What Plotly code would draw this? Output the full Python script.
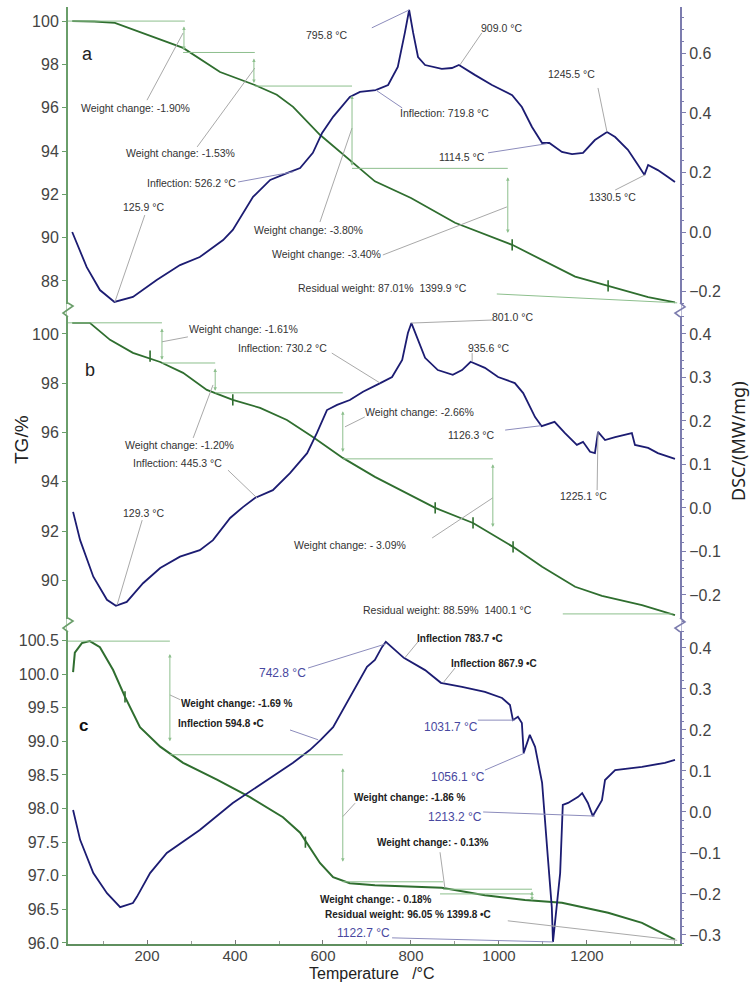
import plotly.graph_objects as go

# ---------------- data ----------------
# Panel a
a_tg_T = [30, 80, 127, 282, 366, 445, 495, 532, 593, 661, 718, 800, 900, 1030, 1173, 1248, 1339, 1400]
a_tg = [100.0, 99.98, 99.92, 98.76, 97.65, 97.05, 96.6, 96.04, 94.75, 93.6, 92.6, 91.83, 90.69, 89.67, 88.2, 87.77, 87.26, 87.01]
a_dsc_T = [30, 63, 93, 125.9, 168, 222, 275, 320, 373, 395, 441, 480, 518, 548, 577, 598, 623, 661, 684, 719.8,
           748, 770, 786, 795.8, 805, 816, 832, 870, 893, 909, 945, 984, 1030, 1052, 1075, 1098, 1114.5, 1143,
           1166, 1191, 1218, 1245.5, 1264, 1293, 1316, 1330.5, 1339, 1361, 1384, 1400]
a_dsc = [0.0, -0.118, -0.195, -0.235, -0.218, -0.161, -0.111, -0.084, -0.027, 0.007, 0.118, 0.175, 0.198, 0.215,
         0.266, 0.333, 0.387, 0.454, 0.471, 0.477, 0.494, 0.555, 0.669, 0.746, 0.669, 0.588, 0.561, 0.548, 0.551,
         0.561, 0.528, 0.494, 0.460, 0.420, 0.353, 0.299, 0.299, 0.269, 0.262, 0.266, 0.309, 0.336, 0.319, 0.276,
         0.225, 0.192, 0.225, 0.208, 0.185, 0.168]
a_step_T = [1030, 1248]
a_step = [89.67, 87.77]

# Panel b
b_tg_T = [30, 70, 116, 168, 230, 282, 336, 395, 457, 518, 577, 645, 718, 855, 941, 1032, 1098, 1173, 1234, 1325, 1400]
b_tg = [100.45, 100.45, 99.76, 99.23, 98.86, 98.42, 97.73, 97.32, 97.0, 96.51, 95.82, 94.97, 94.2, 92.94, 92.33,
        91.36, 90.55, 89.74, 89.37, 89.0, 88.59]
b_dsc_T = [32, 48, 78, 109, 129.3, 154, 191, 230, 275, 320, 350, 389, 418, 445.3, 486, 525, 564, 586, 609, 632,
           661, 691, 730.2, 757, 780, 793, 801, 813, 832, 861, 895, 916, 935.6, 968, 998, 1036, 1055, 1082, 1097,
           1126.3, 1150, 1177, 1191, 1207, 1218, 1225.1, 1241, 1264, 1302, 1309, 1339, 1361, 1400]
b_dsc = [-0.009, -0.074, -0.158, -0.211, -0.225, -0.216, -0.173, -0.138, -0.112, -0.097, -0.074, -0.023, 0.002,
         0.023, 0.041, 0.080, 0.126, 0.172, 0.225, 0.237, 0.248, 0.267, 0.287, 0.301, 0.340, 0.402, 0.425, 0.393,
         0.345, 0.317, 0.306, 0.317, 0.336, 0.322, 0.301, 0.287, 0.264, 0.209, 0.188, 0.198, 0.172, 0.145, 0.152,
         0.129, 0.126, 0.175, 0.156, 0.163, 0.172, 0.145, 0.138, 0.126, 0.113]
b_step_T = [207, 395, 855, 941, 1032]
b_step = [99.1, 97.32, 92.94, 92.33, 91.36]

# Panel c
c_tg_T = [32, 36, 52, 70, 93, 123, 150, 184, 230, 282, 359, 434, 509, 548, 593, 623, 661, 718, 870, 968, 1059,
          1143, 1248, 1325, 1400]
c_tg = [100.03, 100.32, 100.46, 100.49, 100.40, 100.06, 99.66, 99.21, 98.92, 98.68, 98.43, 98.17, 97.87, 97.64,
        97.19, 96.98, 96.89, 96.86, 96.82, 96.71, 96.64, 96.60, 96.45, 96.30, 96.05]
c_dsc_T = [32, 48, 78, 109, 139, 168, 177, 207, 245, 320, 395, 473, 532, 570, 594.8, 623, 661, 700, 718, 734, 742.8,
           764, 783.7, 832, 867.9, 916, 968, 1007, 1025, 1031.7, 1043, 1052, 1056.1, 1070, 1082, 1098, 1105, 1111,
           1120, 1122.7, 1139, 1145, 1157, 1180, 1189, 1202, 1213.2, 1234, 1241, 1264, 1325, 1377, 1400]
c_dsc = [0.005, -0.068, -0.149, -0.198, -0.232, -0.222, -0.207, -0.149, -0.100, -0.044, 0.022, 0.078, 0.120, 0.151,
         0.176, 0.207, 0.280, 0.354, 0.371, 0.402, 0.415, 0.395, 0.376, 0.346, 0.315, 0.305, 0.293, 0.278, 0.261,
         0.224, 0.232, 0.217, 0.144, 0.188, 0.159, 0.071, -0.036, -0.110, -0.232, -0.317, -0.149, 0.017, 0.022,
         0.037, 0.046, 0.022, -0.010, 0.029, 0.078, 0.102, 0.110, 0.120, 0.127]
c_step_T = [150, 560]
c_step = [99.66, 97.5]

x_ticks = [200, 400, 600, 800, 1000, 1200]
a_tg_ticks = [88, 90, 92, 94, 96, 98, 100]
b_tg_ticks = [90, 92, 94, 96, 98, 100]
c_tg_ticks = [96.0, 96.5, 97.0, 97.5, 98.0, 98.5, 99.0, 99.5, 100.0, 100.5]

# ---------------- styles ----------------
GREEN = "#2f6e2f"
BLUE = "#1c1c72"
AXG = "#6a9e6a"
AXB = "#7c7cae"
WCL = "#8dbf8d"
LEAD = "#a9a9a9"
LEADB = "#8c8cbc"
TXT = "#333333"
FONT = "Liberation Sans, Arial, sans-serif"

fig = go.Figure()


def add_curve(T, v, yax, color, w=1.8):
    fig.add_trace(go.Scatter(x=T, y=v, xaxis="x", yaxis=yax, mode="lines",
                             line=dict(color=color, width=w), showlegend=False, hoverinfo="skip"))


def add_steps(T, v, yax):
    fig.add_trace(go.Scatter(x=T, y=v, xaxis="x", yaxis=yax, mode="markers",
                             marker=dict(symbol="line-ns", size=8, line=dict(color=GREEN, width=1.6)),
                             showlegend=False, hoverinfo="skip"))


add_curve(a_tg_T, a_tg, "y5", GREEN)
add_curve(a_dsc_T, a_dsc, "y6", BLUE)
add_steps(a_step_T, a_step, "y5")
add_curve(b_tg_T, b_tg, "y3", GREEN)
add_curve(b_dsc_T, b_dsc, "y4", BLUE)
add_steps(b_step_T, b_step, "y3")
add_curve(c_tg_T, c_tg, "y", GREEN, 2.0)
add_curve(c_dsc_T, c_dsc, "y2", BLUE)
add_steps(c_step_T, c_step, "y")

shapes = []
anns = []


def seg(x0, y0, x1, y1, yref, color=LEAD, w=1):
    shapes.append(dict(type="line", xref="x", yref=yref, x0=x0, y0=y0, x1=x1, y1=y1,
                       line=dict(color=color, width=w)))


def darrow(x, y0, y1, yref):
    anns.append(dict(x=x, y=y1, ax=x, ay=y0, xref="x", yref=yref, axref="x", ayref=yref, text="",
                     showarrow=True, arrowhead=2, arrowsize=0.7, arrowwidth=1, arrowcolor=WCL,
                     arrowside="end+start", standoff=0, startstandoff=0))


def label(x, y, text, yref, size=10.5, color=TXT, bold=False, xanchor="center"):
    if bold:
        text = "<b>" + text + "</b>"
    anns.append(dict(x=x, y=y, xref="x", yref=yref, text=text, showarrow=False, xanchor=xanchor,
                     yanchor="middle", font=dict(family=FONT, size=size, color=color)))


# ---- panel a (TG: y5, DSC: y6)
seg(20, 100.0, 286, 100.0, "y5", WCL)
darrow(284, 99.82, 98.66, "y5")
seg(282, 98.55, 445, 98.55, "y5", WCL)
darrow(443, 98.34, 97.14, "y5")
seg(445, 97.0, 666, 97.0, "y5", WCL)
darrow(666, 96.63, 93.32, "y5")
seg(666, 93.2, 1020, 93.2, "y5", WCL)
darrow(1020, 92.86, 90.22, "y5")
seg(995, 87.4, 1405, 86.99, "y5", WCL)

label(173, 95.99, "Weight change: -1.90%", "y5")
seg(200, 96.35, 282, 99.45, "y5")
label(275, 93.91, "Weight change: -1.53%", "y5")
seg(314, 94.19, 445, 97.83, "y5")
label(566, 90.36, "Weight change: -3.80%", "y5")
seg(593, 90.72, 666, 95.06, "y5")
label(607, 89.25, "Weight change: -3.40%", "y5")
seg(736, 89.2, 1018, 91.42, "y5")
label(736, 87.68, "Residual weight: 87.01%  1399.9 °C", "y5")
label(302, 0.165, "Inflection: 526.2 °C", "y6")
seg(407, 0.168, 532, 0.202, "y6", LEADB)
label(191, 0.084, "125.9 °C", "y6")
seg(195, 0.057, 127, -0.235, "y6")
label(609, 0.662, "795.8 °C", "y6")
seg(711, 0.686, 795.8, 0.746, "y6", LEADB)
label(1005, 0.686, "909.0 °C", "y6")
seg(961, 0.669, 911, 0.561, "y6")
label(877, 0.40, "Inflection: 719.8 °C", "y6")
seg(780, 0.417, 720, 0.477, "y6", LEADB)
label(1164, 0.531, "1245.5 °C", "y6")
seg(1225, 0.484, 1245.5, 0.336, "y6")
label(916, 0.252, "1114.5 °C", "y6")
seg(975, 0.266, 1110, 0.297, "y6", LEADB)
label(1257, 0.118, "1330.5 °C", "y6")
seg(1264, 0.141, 1332, 0.192, "y6")
label(64, 98.48, "a", "y5", size=18, color="#222")

# ---- panel b (TG: y3, DSC: y4)
seg(20, 100.45, 234, 100.45, "y3", WCL)
darrow(234, 100.28, 98.95, "y3")
seg(234, 98.82, 355, 98.82, "y3", WCL)
darrow(355, 98.66, 97.69, "y3")
seg(355, 97.61, 645, 97.61, "y3", WCL)
darrow(645, 96.92, 95.21, "y3")
seg(645, 94.93, 986, 94.93, "y3", WCL)
darrow(986, 94.77, 92.17, "y3")
seg(1145, 88.64, 1395, 88.64, "y3", WCL)

label(420, 100.2, "Weight change: -1.61%", "y3")
seg(293, 99.88, 234, 99.68, "y3")
label(273, 95.5, "Weight change: -1.20%", "y3")
seg(305, 95.78, 350, 97.93, "y3")
label(820, 96.84, "Weight change: -2.66%", "y3")
seg(695, 96.63, 650, 96.23, "y3")
label(661, 91.44, "Weight change: - 3.09%", "y3")
seg(848, 91.72, 986, 93.35, "y3")
label(884, 88.8, "Residual weight: 88.59%  1400.1 °C", "y3")
label(507, 0.368, "Inflection: 730.2 °C", "y4")
seg(620, 0.356, 730, 0.287, "y4")
label(270, 0.103, "Inflection: 445.3 °C", "y4")
seg(384, 0.087, 450, 0.023, "y4")
label(193, -0.011, "129.3 °C", "y4")
seg(189, -0.028, 132, -0.223, "y4")
label(1030, 0.439, "801.0 °C", "y4")
seg(986, 0.432, 801, 0.425, "y4")
label(977, 0.368, "935.6 °C", "y4")
seg(939, 0.356, 939, 0.336, "y4")
label(936, 0.168, "1126.3 °C", "y4")
seg(1014, 0.179, 1095, 0.189, "y4", LEADB)
label(1193, 0.028, "1225.1 °C", "y4")
seg(1223, 0.041, 1225, 0.175, "y4")
label(70, 98.54, "b", "y3", size=18, color="#222")

# ---- panel c (TG: y, DSC: y2)
seg(20, 100.49, 252, 100.49, "y", WCL)
darrow(252, 100.32, 99.0, "y")
seg(252, 98.80, 645, 98.80, "y", WCL)
darrow(645, 98.62, 97.21, "y")
seg(645, 96.91, 873, 96.91, "y", WCL)
seg(873, 96.80, 1075, 96.80, "y", WCL)
seg(866, 96.73, 1075, 96.73, "y", WCL)
darrow(1075, 96.79, 96.63, "y")

label(405, 99.56, "Weight change: -1.69 %", "y", size=10, bold=True, color="#222")
seg(275, 99.62, 252, 99.69, "y")
label(368, 0.217, "Inflection 594.8 •C", "y2", size=10, bold=True, color="#222")
seg(525, 0.20, 589, 0.176, "y2", LEADB)
label(798, 98.16, "Weight change: -1.86 %", "y", size=10, bold=True, color="#222")
seg(673, 98.08, 645, 97.88, "y")
label(850, 97.49, "Weight change: - 0.13%", "y", size=10, bold=True, color="#222")
seg(866, 97.35, 877, 96.82, "y")
label(720, 96.65, "Weight change: - 0.18%", "y", size=10, bold=True, color="#222")
label(793, 96.43, "Residual weight: 96.05 % 1399.8 •C", "y", size=10, bold=True, color="#222")
seg(1020, 96.33, 1405, 96.04, "y")
label(509, 0.339, "742.8 °C", "y2", size=12, color="#4848a0")
seg(566, 0.351, 742.8, 0.41, "y2", LEADB)
label(911, 0.424, "Inflection 783.7 •C", "y2", size=10, bold=True, color="#222")
seg(816, 0.415, 786, 0.376, "y2")
label(989, 0.363, "Inflection 867.9 •C", "y2", size=10, bold=True, color="#222")
seg(900, 0.351, 873, 0.315, "y2")
label(891, 0.207, "1031.7 °C", "y2", size=12, color="#4848a0")
seg(952, 0.224, 1036, 0.224, "y2", LEADB)
label(907, 0.085, "1056.1 °C", "y2", size=12, color="#4848a0")
seg(968, 0.102, 1059, 0.144, "y2", LEADB)
label(900, -0.012, "1213.2 °C", "y2", size=12, color="#4848a0")
seg(964, 0.0, 1218, -0.010, "y2", LEADB)
label(691, -0.295, "1122.7 °C", "y2", size=12, color="#4848a0")
seg(757, -0.307, 1123, -0.317, "y2", LEADB)
label(55, 99.24, "c", "y", size=17, color="#111", bold=True)

# ---- axis break marks (paper coords, pixel -> paper)
W, H = 750, 983
L, R, T_, B = 68, 70, 7, 39
PW, PH = W - L - R, H - T_ - B


def px(xp):
    return (xp - L) / PW


def py(yp):
    return (H - B - yp) / PH


def zig(points, color):
    d = "M " + " L ".join(f"{px(a):.5f},{py(b):.5f}" for a, b in points)
    shapes.append(dict(type="path", xref="paper", yref="paper", path=d, line=dict(color=color, width=1.6)))


for yb in (310, 625):
    shapes.append(dict(type="line", xref="paper", yref="paper", x0=px(68), x1=px(68), y0=py(yb - 6), y1=py(yb + 6),
                       line=dict(color="white", width=3)))
    shapes.append(dict(type="line", xref="paper", yref="paper", x0=px(680), x1=px(680), y0=py(yb - 6), y1=py(yb + 6),
                       line=dict(color="white", width=3)))
    zig([(68, yb - 7), (73, yb - 4), (63, yb + 3), (68, yb + 7)], AXG)
    zig([(680, yb - 7), (685, yb - 3), (675, yb + 3), (680, yb + 7)], AXB)

# axis titles
anns.append(dict(x=px(21), y=py(440), xref="paper", yref="paper", text="TG/%", textangle=-90, showarrow=False,
                 font=dict(family=FONT, size=19, color="#222"), xanchor="center", yanchor="middle"))
anns.append(dict(x=px(738), y=py(441), xref="paper", yref="paper", text="DSC/(MW/mg)", textangle=-90,
                 showarrow=False, font=dict(family="Noto Sans, sans-serif", size=18, color="#222"),
                 xanchor="center", yanchor="middle"))
anns.append(dict(x=px(372), y=py(973), xref="paper", yref="paper", text="Temperature   /°C", showarrow=False,
                 font=dict(family=FONT, size=16, color="#222"), xanchor="center", yanchor="middle"))

tickfont = dict(family=FONT, size=16, color="#444")
xtickfont = dict(family=FONT, size=15, color="#444")
dom_c = [0, py(625)]
dom_b = [py(625), py(310)]
dom_a = [py(310), 1]


def left_axis(dom, rng, vals, fmt):
    return dict(domain=dom, range=rng, anchor="x", side="left", tickvals=vals, tickformat=fmt,
                showline=True, linecolor=AXG, linewidth=2, ticks="outside", ticklen=4, tickcolor=AXG,
                showgrid=False, zeroline=False, tickfont=tickfont)


def right_axis(over, rng, dt):
    return dict(overlaying=over, side="right", anchor="x", range=rng, dtick=dt, tick0=0, tickformat=".1f",
                showline=True, linecolor=AXB, linewidth=2, ticks="outside", ticklen=4, tickcolor=AXB,
                minor=dict(ticks="outside", ticklen=2, dtick=dt / 5, tickcolor=AXB),
                showgrid=False, zeroline=False, tickfont=tickfont)


fig.update_layout(
    width=W, height=H, margin=dict(l=L, r=R, t=T_, b=B),
    paper_bgcolor="white", plot_bgcolor="white", showlegend=False,
    xaxis=dict(domain=[0, 1], range=[20.45, 1411.4], anchor="y", tickvals=x_ticks,
               showline=True, linecolor="#5f8f5f", linewidth=2, ticks="inside", ticklen=4, tickcolor="#777",
               minor=dict(ticks="inside", ticklen=3, dtick=100, tickcolor="#999"),
               ticklabelstandoff=-3,
               showgrid=False, zeroline=False, tickfont=xtickfont),
    yaxis=left_axis(dom_c, [95.985, 100.73], c_tg_ticks, ".1f"),
    yaxis2=right_axis("y", [-0.322, 0.456], 0.1),
    yaxis3=left_axis(dom_b, [88.19, 100.97], b_tg_ticks, "d"),
    yaxis4=right_axis("y3", [-0.269, 0.455], 0.1),
    yaxis5=left_axis(dom_a, [86.66, 100.65], a_tg_ticks, "d"),
    yaxis6=right_axis("y5", [-0.262, 0.756], 0.2),
    shapes=shapes, annotations=anns,
)

fig.write_html("out.html", config={"displayModeBar": False},
               post_script="document.body.style.margin='0';document.body.style.padding='0';")
